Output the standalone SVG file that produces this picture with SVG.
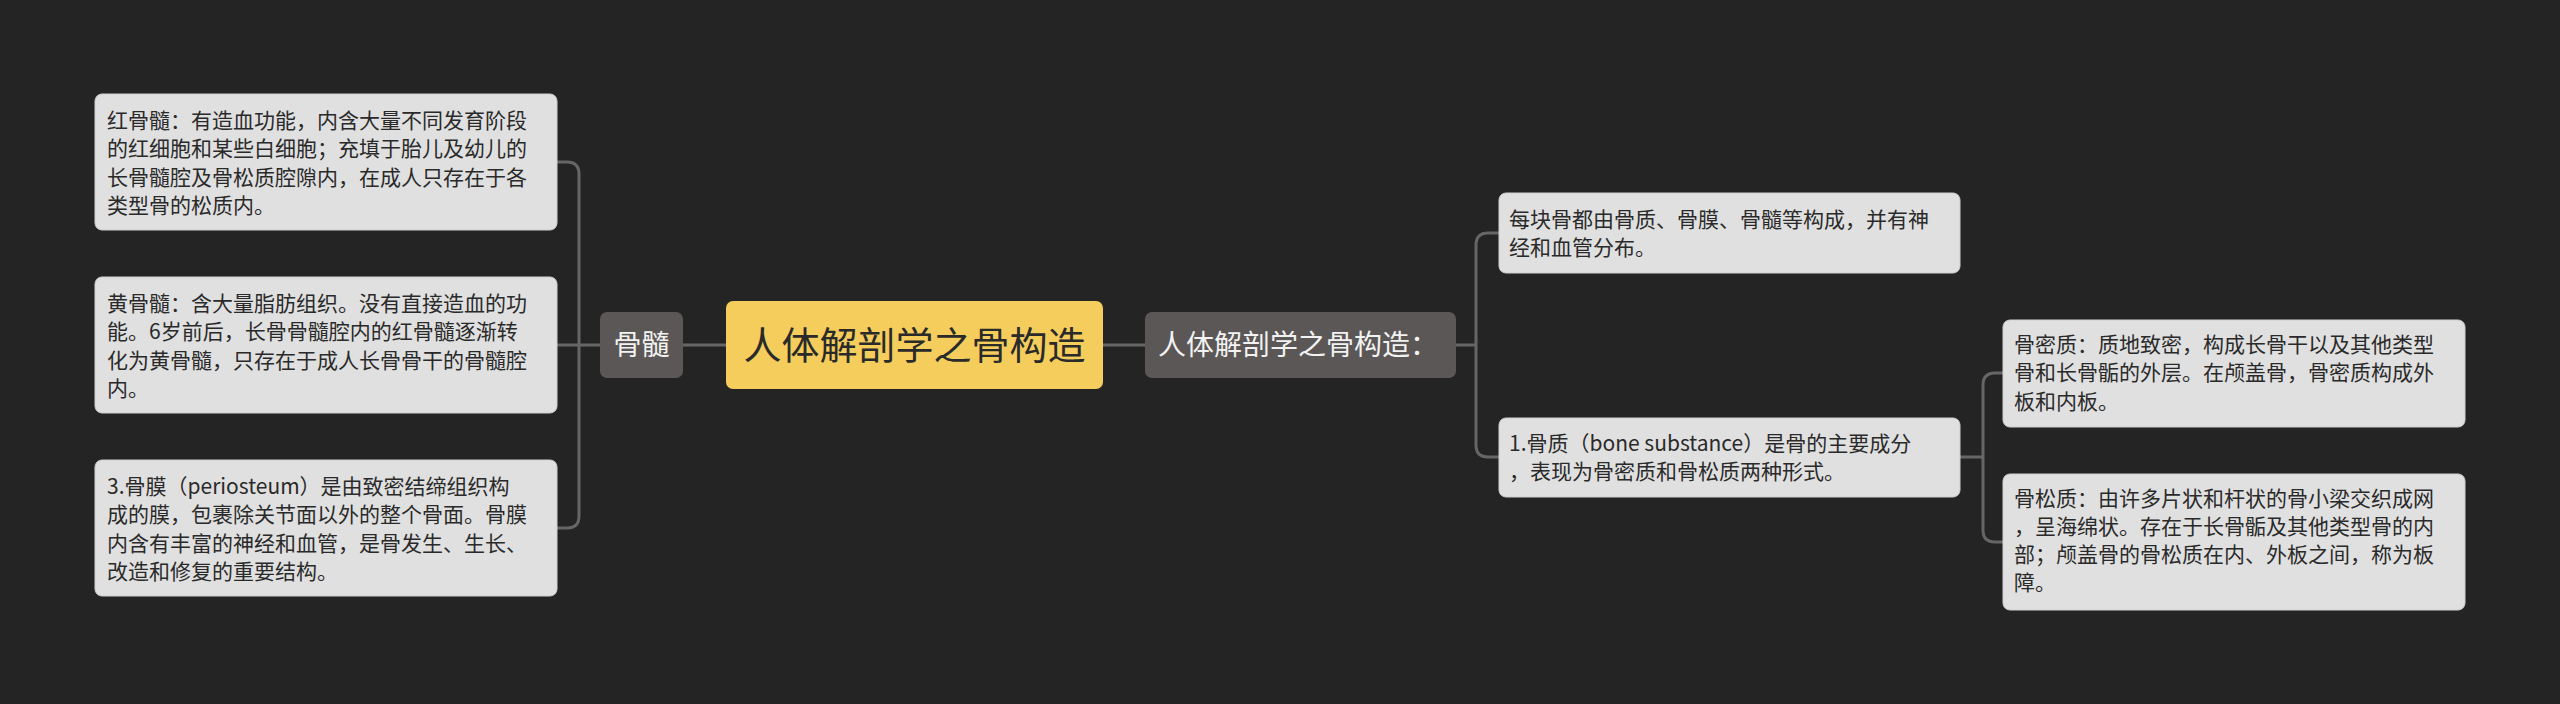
<svg xmlns="http://www.w3.org/2000/svg" width="2560" height="704" viewBox="0 0 2560 704">
<style>
text{font-family:"Noto Sans CJK SC","Liberation Sans",sans-serif}
.leaf{fill:#e0e0e0;stroke:#cfcfcf;stroke-width:1}
.lt{font-size:21px;fill:#2a2a2a}
.mid{fill:#5b5756}
.mt{font-size:28px;fill:#f2f2f2}
.ln{fill:none;stroke:#666;stroke-width:3}
</style>
<rect width="2560" height="704" fill="#242424"/>
<g id="connectors">
<path class="ln" d="M557,162 H567 Q579,162 579,174 V516 Q579,528 567,528 H557"/>
<path class="ln" d="M557,345 H600"/>
<path class="ln" d="M683,345 H726"/>
<path class="ln" d="M1103,345 H1145"/>
<path class="ln" d="M1456,345 H1476"/>
<path class="ln" d="M1499,233 H1488 Q1476,233 1476,245 V445 Q1476,457 1488,457 H1499"/>
<path class="ln" d="M1960,457 H1983"/>
<path class="ln" d="M2003,373 H1995 Q1983,373 1983,385 V530 Q1983,542 1995,542 H2003"/>
</g>
<g id="root"><rect x="726" y="301" width="377" height="88" rx="7" fill="#f5cd5c"/><text x="914.5" y="359" text-anchor="middle" font-size="38" fill="#2a2a2a">人体解剖学之骨构造</text></g>
<g id="n-gusui"><rect class="mid" x="600" y="312" width="83" height="66" rx="7"/><text class="mt" x="641.5" y="355" text-anchor="middle">骨髓</text></g>
<g id="n-gougou"><rect class="mid" x="1145" y="312" width="311" height="66" rx="7"/><text class="mt" x="1158" y="355">人体解剖学之骨构造：</text></g>
<g id="l1"><rect class="leaf" x="95" y="94" width="462" height="136" rx="7"/><text class="lt"><tspan x="107" y="128">红骨髓：有造血功能，内含大量不同发育阶段</tspan><tspan x="107" y="156">的红细胞和某些白细胞；充填于胎儿及幼儿的</tspan><tspan x="107" y="185">长骨髓腔及骨松质腔隙内，在成人只存在于各</tspan><tspan x="107" y="213">类型骨的松质内。</tspan></text></g>
<g id="l2"><rect class="leaf" x="95" y="277" width="462" height="136" rx="7"/><text class="lt"><tspan x="107" y="311">黄骨髓：含大量脂肪组织。没有直接造血的功</tspan><tspan x="107" y="339">能。6岁前后，长骨骨髓腔内的红骨髓逐渐转</tspan><tspan x="107" y="368">化为黄骨髓，只存在于成人长骨骨干的骨髓腔</tspan><tspan x="107" y="396">内。</tspan></text></g>
<g id="l3"><rect class="leaf" x="95" y="460" width="462" height="136" rx="7"/><text class="lt"><tspan x="107" y="494">3.骨膜（periosteum）是由致密结缔组织构</tspan><tspan x="107" y="522">成的膜，包裹除关节面以外的整个骨面。骨膜</tspan><tspan x="107" y="551">内含有丰富的神经和血管，是骨发生、生长、</tspan><tspan x="107" y="579">改造和修复的重要结构。</tspan></text></g>
<g id="rA"><rect class="leaf" x="1499" y="193" width="461" height="80" rx="7"/><text class="lt"><tspan x="1509" y="227">每块骨都由骨质、骨膜、骨髓等构成，并有神</tspan><tspan x="1509" y="255">经和血管分布。</tspan></text></g>
<g id="rB"><rect class="leaf" x="1499" y="418" width="461" height="79" rx="7"/><text class="lt"><tspan x="1509" y="451">1.骨质（bone substance）是骨的主要成分</tspan><tspan x="1509" y="479">，表现为骨密质和骨松质两种形式。</tspan></text></g>
<g id="rC"><rect class="leaf" x="2003" y="320" width="462" height="107" rx="7"/><text class="lt"><tspan x="2014" y="352">骨密质：质地致密，构成长骨干以及其他类型</tspan><tspan x="2014" y="380">骨和长骨骺的外层。在颅盖骨，骨密质构成外</tspan><tspan x="2014" y="409">板和内板。</tspan></text></g>
<g id="rD"><rect class="leaf" x="2003" y="474" width="462" height="136" rx="7"/><text class="lt"><tspan x="2014" y="506">骨松质：由许多片状和杆状的骨小梁交织成网</tspan><tspan x="2014" y="534">，呈海绵状。存在于长骨骺及其他类型骨的内</tspan><tspan x="2014" y="562">部；颅盖骨的骨松质在内、外板之间，称为板</tspan><tspan x="2014" y="590">障。</tspan></text></g>
</svg>
